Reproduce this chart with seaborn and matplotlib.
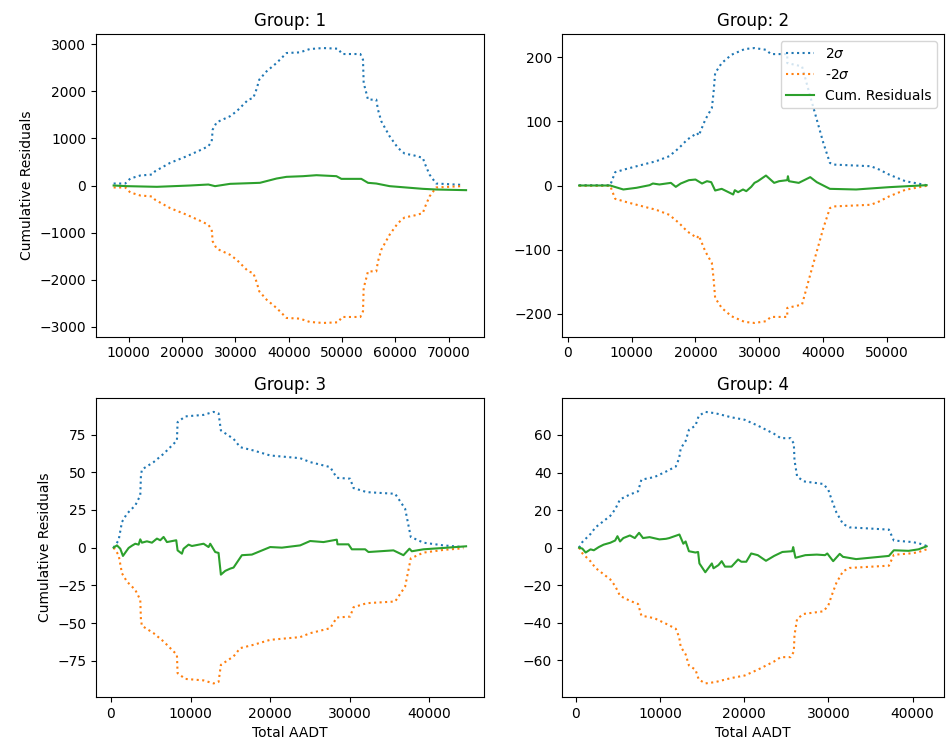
import numpy as np
import matplotlib
matplotlib.use("Agg")
import matplotlib.pyplot as plt
import seaborn as sns

# ---- Group 1 -------------------------------------------------------------
g1_sig_x = [7197, 9377, 10311, 12180, 14361, 14984, 17788, 20903, 23395, 24952,
            25575, 25762, 26510, 29002, 30248, 32428, 33363, 33986, 34484, 35855,
            37724, 39593, 42085, 43954, 46446, 49249, 49997, 53423, 53922, 54047,
            54545, 54857, 56414, 56726, 57349, 58907, 60465, 61711, 63580, 65137,
            65449, 66383, 67629, 72302]
g1_sig = [42, 42, 148, 212, 233, 304, 481, 622, 749, 834,
          940, 1188, 1343, 1471, 1577, 1824, 1859, 2050, 2248, 2425,
          2602, 2814, 2828, 2899, 2920, 2906, 2793, 2793, 2672, 2178,
          1965, 1824, 1824, 1612, 1365, 1046, 799, 679, 636, 587,
          481, 233, 42, 14]
g1_res_x = [7197, 9689, 15296, 21526, 24952, 26198, 29002, 34609, 37724, 39593,
            42708, 45200, 48938, 49872, 53610, 54857, 56414, 58907, 65137, 67629,
            73236]
g1_res = [0, -14, -28, 0, 21, -14, 35, 57, 148, 184,
          198, 219, 198, 141, 141, 57, 42, -14, -71, -85,
          -99]

# ---- Group 2 -------------------------------------------------------------
g2_sig_x = [1795, 6667, 7436, 9231, 11795, 13846, 15897, 17436, 18718, 20256,
            20513, 21538, 22564, 22821, 23077, 24103, 25641, 27692, 29231, 31026,
            31795, 34359, 34359, 36667, 37949, 38974, 40000, 41026, 41538, 47436,
            48718, 50256, 52821, 56154]
g2_sig = [0.5, 0.5, 20.7, 25.9, 32.6, 37.8, 45.6, 58.5, 71.5, 81.8,
          77.7, 102.6, 120.7, 144, 175, 190.6, 203.6, 212.4, 214, 211.3,
          204.6, 204.6, 190.6, 185.4, 138.8, 102.6, 66.3, 35.2, 32.6, 30,
          24.9, 17.1, 6.7, 0.5]
g2_res_x = [1795, 6667, 8718, 10769, 12821, 13333, 14359, 16154, 16923, 17692,
            18974, 20000, 21026, 21795, 22462, 23077, 24103, 25897, 26154, 26667,
            27436, 27949, 28718, 29231, 29744, 31026, 32308, 33077, 34359, 34462,
            34615, 36154, 37949, 38974, 41026, 45128, 50256, 56154]
g2_res = [0, 0, -6.2, -3.6, 0.5, 3.1, 1.6, 4.1, -2.1, 3.1,
          8.3, 9.3, 3.1, 6.7, 5.2, -7.8, -5.2, -14, -7.3, -10.4,
          -6.2, -8.8, -2.1, 4.1, 6.7, 15.5, 4.1, 6.7, 8.3, 14.5,
          6.7, 4.1, 13, 5.2, -5.2, -6.2, -2.6, 0.5]

# ---- Group 3 -------------------------------------------------------------
g3_sig_x = [335, 963, 1382, 2010, 3057, 3685, 3769, 3895, 5361, 6617,
            7873, 8292, 8376, 9339, 11643, 12899, 13527, 13820, 15412, 16249,
            17925, 20019, 23788, 25044, 27557, 28395, 30070, 30489, 32164, 35724,
            36981, 37692, 39283, 41796, 44307]
g3_sig = [0, 4.9, 17, 22.5, 28, 34.6, 47.9, 51.8, 56.7, 62.2,
          68.8, 71, 83.2, 87, 88, 90, 89, 77.7, 72.1, 66.6,
          64.4, 61.1, 59.3, 56.7, 53.4, 46.3, 45.7, 39.5, 36.8, 35.7,
          25.8, 7.1, 3.3, 1.5, 0.4]
g3_res_x = [335, 754, 1173, 1508, 1801, 2220, 2639, 3057, 3476, 3685,
            3895, 4523, 5151, 5780, 6198, 6617, 7036, 8208, 8376, 8920,
            9130, 9758, 10177, 11643, 12271, 12480, 13108, 13527, 13820, 14365,
            14993, 15412, 16459, 17715, 20019, 21485, 23788, 25044, 26719, 28395,
            28479, 29861, 30280, 31955, 32374, 35515, 36771, 37525, 37818, 39283,
            41796, 44644]
g3_res = [0, 1.5, -0.7, -5.5, -3.3, -0.2, 1.3, 2.6, 2, 5.5,
          3.3, 4.2, 3.3, 6, 4.9, 7.1, 3.7, 4.9, -1.8, -4,
          -0.7, 2, 1.1, 2.6, 0.4, 2.6, -2.9, -3.5, -17.9, -15.4,
          -13.9, -13.2, -5, -4.6, 0.4, 0, 1.5, 4.4, 3.7, 5.3,
          2.2, 2.2, -1.1, -1.1, -2.9, -1.8, -5, -0.7, -2.4, -1.1,
          -0.2, 0.9]

# ---- Group 4 -------------------------------------------------------------
g4_sig_x = [390, 779, 1753, 2337, 3116, 4090, 4674, 5258, 6427, 7400,
            7790, 9348, 10711, 11880, 12269, 12464, 13048, 13438, 14217, 14606,
            15385, 16553, 18501, 20059, 21617, 23564, 24344, 25512, 25902, 25980,
            26291, 27070, 29407, 29992, 30381, 30965, 31744, 32523, 37197, 37781,
            39924, 40703, 41677]
g4_sig = [0, 3, 7.3, 10.8, 13.5, 16.9, 20.4, 25.7, 28.3, 30,
          36.2, 37.6, 40.5, 43.2, 47.5, 52.8, 56.8, 62.7, 65, 70.2,
          72.3, 71.6, 69.4, 68.1, 65, 60.6, 58.3, 58.3, 55.4, 46.6,
          37.9, 35.3, 33.9, 30.9, 25.7, 18.7, 12.6, 10.8, 9.6, 3.8,
          3, 2.4, 0.9]
g4_res_x = [390, 779, 1169, 1753, 2142, 2727, 3311, 4090, 4674, 4947,
            5258, 5648, 6427, 7011, 7517, 7985, 8764, 9932, 10711, 11101,
            12308, 12774, 13048, 13438, 14217, 14528, 14684, 15385, 16164, 16359,
            16943, 17333, 17722, 18501, 19280, 19670, 20254, 20838, 21617, 22591,
            23564, 24538, 25707, 25824, 26096, 27266, 28629, 29603, 29876, 30576,
            31355, 31744, 33302, 37197, 37781, 39535, 40703, 41677]
g4_res = [0, -0.5, -2.6, -0.9, -1.4, 0.3, 1.6, 2.6, 3.8, 6.1,
          3.3, 5.1, 6.5, 5.1, 7.9, 5.1, 5.6, 4.4, 4.7, 5.1,
          7, 2.1, 3.3, -1.9, -2.6, -2.3, -8.4, -13.1, -8.4, -11,
          -9.3, -7.2, -10.1, -10.1, -6.3, -7.5, -7.5, -3.1, -4, -7,
          -4.4, -2.3, -1.9, 0.3, -5.4, -4, -3.7, -4, -3.1, -7.2,
          -3.3, -4.9, -6.1, -4.4, -1.4, -1.7, -0.9, 0.7]

groups = ["1", "2", "3", "4"]
sig_x = [g1_sig_x, g2_sig_x, g3_sig_x, g4_sig_x]
sig_y = [g1_sig, g2_sig, g3_sig, g4_sig]
res_x = [g1_res_x, g2_res_x, g3_res_x, g4_res_x]
res_y = [g1_res, g2_res, g3_res, g4_res]

W, H = 946, 750
fig = plt.figure(figsize=(W / 100, H / 100), dpi=100)

# axes rectangles in pixels: (left, top, right, bottom)
boxes = [(96, 34.3, 483.7, 336.7), (561.7, 34.3, 944, 336.7),
         (96, 398.3, 483.7, 697), (561.7, 398.3, 944, 697)]

for i, (l, t, r, b) in enumerate(boxes):
    ax = fig.add_axes([l / W, (H - b) / H, (r - l) / W, (b - t) / H])
    sx = np.array(sig_x[i], dtype=float)
    sy = np.array(sig_y[i], dtype=float)
    show = (i == 1)
    sns.lineplot(x=sx, y=sy, ax=ax, color="C0", linestyle=":", linewidth=1.5,
                 sort=False, estimator=None, label="2$\\sigma$" if show else None)
    sns.lineplot(x=sx, y=-sy, ax=ax, color="C1", linestyle=":", linewidth=1.5,
                 sort=False, estimator=None, label="-2$\\sigma$" if show else None)
    sns.lineplot(x=res_x[i], y=res_y[i], ax=ax, color="C2", linestyle="-",
                 linewidth=1.5, sort=False, estimator=None,
                 label="Cum. Residuals" if show else None)
    ax.set_title(f"Group: {groups[i]}")
    if show:
        ax.legend(loc="upper right")
    elif ax.get_legend() is not None:
        ax.get_legend().remove()
    if i in (0, 2):
        ax.set_ylabel("Cumulative Residuals")
    else:
        ax.set_ylabel("")
    if i in (2, 3):
        ax.set_xlabel("Total AADT")
    else:
        ax.set_xlabel("")

fig.savefig("out.png", dpi=100)
